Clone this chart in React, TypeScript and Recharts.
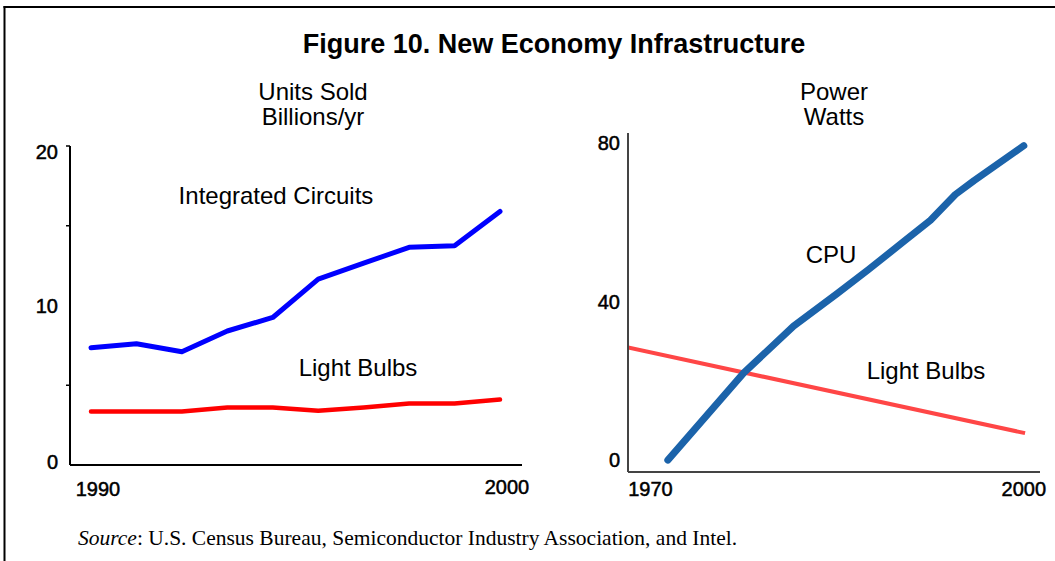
import React from "react";
import { LineChart, Line, XAxis, YAxis } from "recharts";

// ---------- Left panel: Units sold (billions/yr) ----------
const LEFT_YEARS = ["1990", "1991", "1992", "1993", "1994", "1995", "1996", "1997", "1998", "1999"];
const IC_UNITS = [7.35, 7.6, 7.1, 8.4, 9.25, 11.65, 12.65, 13.65, 13.75, 15.9];
const BULB_UNITS = [3.35, 3.35, 3.35, 3.6, 3.6, 3.4, 3.6, 3.85, 3.85, 4.1];
const LEFT_Y_TICKS = [0, 5, 10, 15, 20];
const LEFT_Y_LABELED = [0, 10, 20];
const LEFT_Y_MARKED = [5, 15, 20];
const LEFT_X_TICK_LABELS = ["1990", "2000"];

// ---------- Right panel: Power (watts) ----------
const CPU_YEARS = [1971.4, 1977.5, 1981.5, 1985, 1987.5, 1990.5, 1992.5, 1994.5, 1996, 2000];
const CPU_WATTS = [0, 22, 33.8, 42, 48, 55.5, 60.5, 67, 70.5, 79.3];
const BULB_YEARS = [1968.2, 2000.1];
const BULB_WATTS = [28.4, 6.8];
const RIGHT_X_TICKS = [1970, 2000];
const RIGHT_Y_TICKS = [0, 40, 80];

const leftData = LEFT_YEARS.map((year, i) => ({ year, ic: IC_UNITS[i], bulbs: BULB_UNITS[i] }));
const cpuData = CPU_YEARS.map((year, i) => ({ year, watts: CPU_WATTS[i] }));
const bulbData = BULB_YEARS.map((year, i) => ({ year, watts: BULB_WATTS[i] }));

const SANS = "'Liberation Sans', Arial, Helvetica, sans-serif";
const SERIF = "'Liberation Serif', 'Times New Roman', Times, serif";

const tickTextStyle = {
  fontFamily: SANS,
  fontSize: 20,
  fill: "#000",
  stroke: "#000",
  strokeWidth: 0.5,
};

const LeftXTick = (props: any) => {
  const { x, y, payload } = props;
  const idx = payload.index;
  let label: string | null = null;
  if (idx === 0) label = LEFT_X_TICK_LABELS[0];
  if (idx === LEFT_YEARS.length - 1) label = LEFT_X_TICK_LABELS[1];
  if (!label) return <g />;
  return (
    <text x={x + 7} y={y + (idx === 0 ? 31 : 29)} textAnchor="middle" style={tickTextStyle}>
      {label}
    </text>
  );
};

const LeftYTick = (props: any) => {
  const { x, y, payload } = props;
  const v = payload.value;
  const dy = v === 20 ? 13 : v === 0 ? 4 : 7;
  return (
    <g>
      {LEFT_Y_MARKED.includes(v) && (
        <line x1={x + 8} x2={x + 12} y1={y} y2={y} stroke="#000" strokeWidth={1.5} />
      )}
      {LEFT_Y_LABELED.includes(v) && (
        <text x={x} y={y + dy} textAnchor="end" style={tickTextStyle}>
          {v}
        </text>
      )}
    </g>
  );
};

const RightXTick = (props: any) => {
  const { x, y, payload } = props;
  return (
    <text x={x} y={y + 24} textAnchor="middle" style={tickTextStyle}>
      {payload.value}
    </text>
  );
};

const RightYTick = (props: any) => {
  const { x, y, payload } = props;
  return (
    <text x={x} y={y + 7} textAnchor="end" style={tickTextStyle}>
      {payload.value}
    </text>
  );
};

export default function App() {
  return (
    <div
      style={{
        position: "absolute",
        left: 0,
        top: 0,
        width: 1055,
        height: 561,
        background: "#fff",
        overflow: "hidden",
      }}
    >
      <svg width={1055} height={561} style={{ position: "absolute", left: 0, top: 0 }}>
        <line x1={3.5} x2={1055} y1={7} y2={7} stroke="#000" strokeWidth={2} />
        <line x1={4.5} x2={4.5} y1={6} y2={561} stroke="#000" strokeWidth={2} />
        <text x={554} y={53} textAnchor="middle" fontFamily={SANS} fontWeight="bold" fontSize={27} fill="#000">
          Figure 10. New Economy Infrastructure
        </text>
        <text x={313} y={100} textAnchor="middle" fontFamily={SANS} fontSize={24} fill="#000">
          Units Sold
        </text>
        <text x={313} y={125} textAnchor="middle" fontFamily={SANS} fontSize={24} fill="#000">
          Billions/yr
        </text>
        <text x={834} y={100} textAnchor="middle" fontFamily={SANS} fontSize={24} fill="#000">
          Power
        </text>
        <text x={834} y={125} textAnchor="middle" fontFamily={SANS} fontSize={24} fill="#000">
          Watts
        </text>
        <text x={276} y={204} textAnchor="middle" fontFamily={SANS} fontSize={24} fill="#000">
          Integrated Circuits
        </text>
        <text x={358} y={376} textAnchor="middle" fontFamily={SANS} fontSize={24} fill="#000">
          Light Bulbs
        </text>
        <text x={831} y={263} textAnchor="middle" fontFamily={SANS} fontSize={24} fill="#000">
          CPU
        </text>
        <text x={926} y={379} textAnchor="middle" fontFamily={SANS} fontSize={24} fill="#000">
          Light Bulbs
        </text>
        <text x={78} y={545} fontFamily={SERIF} fontSize={21.5} fill="#000">
          <tspan fontStyle="italic">Source</tspan>: U.S. Census Bureau, Semiconductor Industry Association, and Intel.
        </text>
      </svg>

      <div style={{ position: "absolute", left: 0, top: 0 }}>
        <LineChart width={540} height={561} data={leftData} margin={{ top: 146, right: 18, bottom: 66, left: 10 }}>
          <XAxis
            dataKey="year"
            type="category"
            padding={{ left: 21, right: 22 }}
            axisLine={{ stroke: "#000", strokeWidth: 2 }}
            tickLine={false}
            tickSize={0}
            tickMargin={0}
            interval={0}
            height={30}
            tick={LeftXTick}
          />
          <YAxis
            type="number"
            domain={[0, 20]}
            ticks={LEFT_Y_TICKS}
            interval={0}
            width={60}
            axisLine={{ stroke: "#000", strokeWidth: 2 }}
            tickLine={false}
            tickSize={0}
            tickMargin={12}
            tick={LeftYTick}
          />
          <Line
            dataKey="ic"
            stroke="#0000FF"
            strokeWidth={5}
            dot={false}
            strokeLinejoin="round"
            strokeLinecap="round"
            isAnimationActive={false}
          />
          <Line
            dataKey="bulbs"
            stroke="#FF0000"
            strokeWidth={4.5}
            dot={false}
            strokeLinejoin="round"
            strokeLinecap="round"
            isAnimationActive={false}
          />
        </LineChart>
      </div>

      <div style={{ position: "absolute", left: 560, top: 0 }}>
        <LineChart width={495} height={561} margin={{ top: 133, right: 15, bottom: 59, left: 8 }}>
          <XAxis
            dataKey="year"
            type="number"
            domain={[1968.2, 2001.3]}
            ticks={RIGHT_X_TICKS}
            allowDataOverflow
            interval={0}
            axisLine={{ stroke: "#444", strokeWidth: 2 }}
            tickLine={false}
            tickSize={0}
            tickMargin={0}
            height={30}
            tick={RightXTick}
          />
          <YAxis
            type="number"
            domain={[-3, 82.5]}
            ticks={RIGHT_Y_TICKS}
            allowDataOverflow
            interval={0}
            width={60}
            axisLine={{ stroke: "#444", strokeWidth: 2 }}
            tickLine={false}
            tickSize={0}
            tickMargin={8}
            tick={RightYTick}
          />
          <Line
            data={bulbData}
            dataKey="watts"
            stroke="#FF4646"
            strokeWidth={4}
            dot={false}
            strokeLinejoin="round"
            isAnimationActive={false}
          />
          <Line
            data={cpuData}
            dataKey="watts"
            stroke="#1B63AA"
            strokeWidth={7}
            dot={false}
            strokeLinejoin="round"
            strokeLinecap="round"
            isAnimationActive={false}
          />
        </LineChart>
      </div>
    </div>
  );
}
